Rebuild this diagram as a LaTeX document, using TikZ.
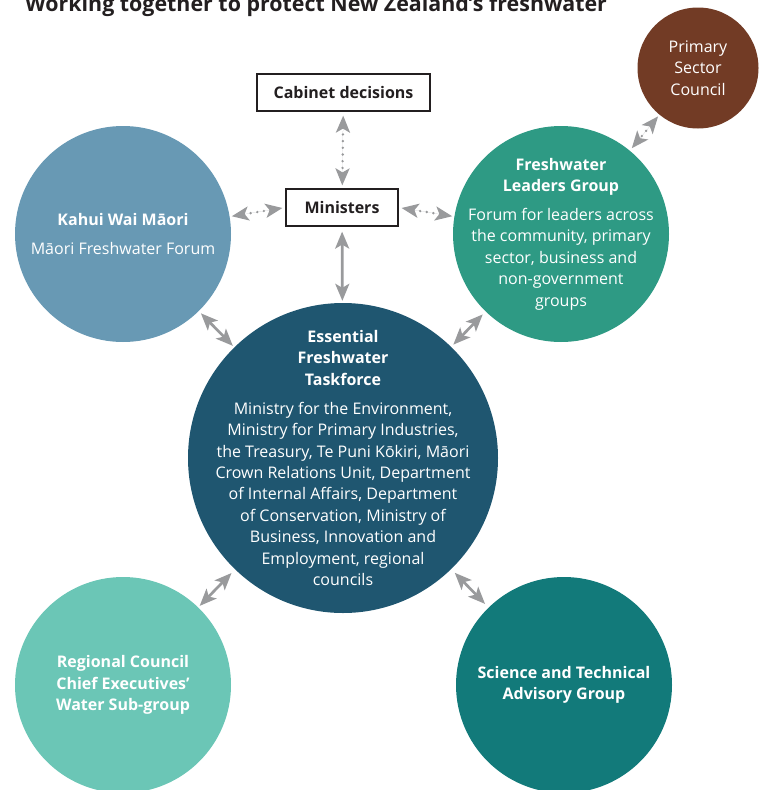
\documentclass[tikz,border=0pt]{standalone}
\usepackage{fontspec}
\setmainfont{Open Sans}
\usetikzlibrary{arrows.meta,positioning}
\definecolor{kahuiblue}{HTML}{6899B4}
\definecolor{leadgreen}{HTML}{2E9A84}
\definecolor{primbrown}{HTML}{723B25}
\definecolor{taskblue}{HTML}{1F5670}
\definecolor{regteal}{HTML}{6BC6B6}
\definecolor{sciteal}{HTML}{127A7A}
\definecolor{linkgray}{HTML}{999A9C}
\definecolor{ink}{HTML}{231F20}

\begin{document}
\begin{tikzpicture}[
    x=1pt, y=-1pt,
    every node/.style={font=\fontsize{16}{21.4}\selectfont},
    circ/.style={circle,minimum size=#1,inner sep=0pt},
    circtext/.style={align=center,text=white,inner sep=0pt},
    box/.style={rectangle,draw=ink,line width=1.2pt,fill=white,text=ink,inner sep=0pt,minimum height=37pt,font=\fontsize{16}{19}\selectfont\bfseries},
    link/.style={{Stealth[length=17pt,width=14pt,inset=4pt]}-{Stealth[length=17pt,width=14pt,inset=4pt]},line width=2.7pt,draw=linkgray,fill=linkgray},
    dotlink/.style={link,dash pattern=on 0pt off 6.7pt,line cap=round}
]
\useasboundingbox (0,0) rectangle (762,790);
\clip (0,0) rectangle (762,790);

\node[anchor=base west,inner sep=0pt,text=ink,font=\fontsize{21.4}{25}\selectfont\bfseries] (title) at (25,11) {Working together to protect New Zealand’s freshwater};

\node[box,minimum width=173pt] (cab) at (343.5,92.5) {Cabinet decisions};
\node[box,minimum width=112pt] (min) at (342,207.5) {Ministers};

\node[circ=216pt,fill=kahuiblue,label={[circtext]center:{\textbf{Kahui Wai Māori}\\[7.6pt]Māori Freshwater Forum}}] (kahui) at (123,234) {};
\node[circ=216pt,fill=leadgreen,label={[circtext]center:{\textbf{Freshwater}\\\textbf{Leaders Group}\\[7.6pt]Forum for leaders across\\the community, primary\\sector, business and\\non-government\\groups}}] (lead) at (561,234) {};
\node[circ=121pt,fill=primbrown,label={[circtext]center:{Primary\\Sector\\Council}}] (prim) at (698,68) {};
\node[circ=310pt,fill=taskblue,label={[circtext]center:{\textbf{Essential}\\\textbf{Freshwater}\\\textbf{Taskforce}\\[7.6pt]Ministry for the Environment,\\Ministry for Primary Industries,\\the Treasury, Te Puni Kōkiri, Māori\\Crown Relations Unit, Department\\of Internal Affairs, Department\\of Conservation, Ministry of\\Business, Innovation and\\Employment, regional\\councils}}] (task) at (343,458) {};
\node[circ=216pt,fill=regteal,label={[circtext]center:{\textbf{Regional Council}\\\textbf{Chief Executives’}\\\textbf{Water Sub-group}}}] (reg) at (123,685) {};
\node[circ=216pt,fill=sciteal,label={[circtext]center:{\textbf{Science and Technical}\\\textbf{Advisory Group}}}] (sci) at (564,685) {};

\draw[dotlink,shorten <=4pt,shorten >=3pt] (cab) -- (min);
\draw[dotlink,shorten <=3pt,shorten >=2pt] (min.west) -- (kahui);
\draw[dotlink,shorten <=3pt,shorten >=2pt] (min.east) -- (lead);
\draw[dotlink,shorten <=2pt,shorten >=3pt] (prim) -- (lead);
\draw[link,shorten <=5pt,shorten >=2pt] (min) -- (task);
\draw[link,shorten <=3pt,shorten >=2pt] (kahui) -- (task);
\draw[link,shorten <=4pt,shorten >=3pt] (lead) -- (task);
\draw[link,shorten <=5pt,shorten >=2pt] (task) -- (reg);
\draw[link,shorten <=5pt,shorten >=5pt] (task) -- (sci);

\end{tikzpicture}
\end{document}
